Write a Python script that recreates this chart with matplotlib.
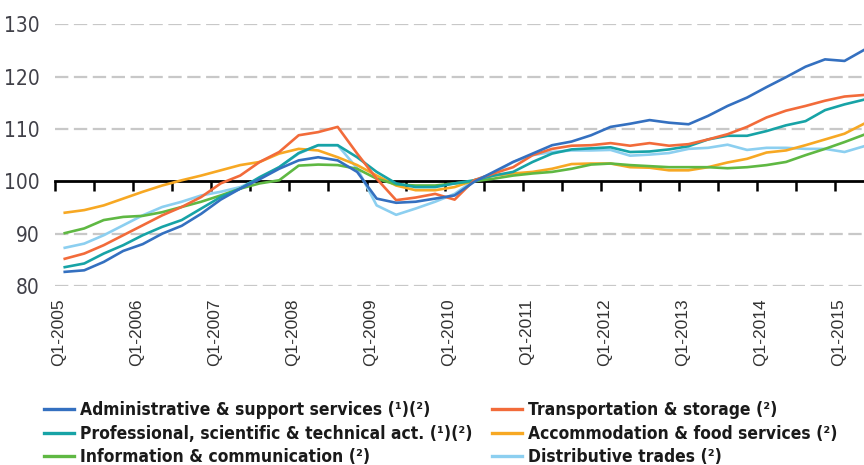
import matplotlib
matplotlib.use("Agg")
import matplotlib.pyplot as plt
from matplotlib import font_manager
from matplotlib.font_manager import FontProperties

years = list(range(2005, 2016))
quarters = [f"Q{q}-{y}" for y in range(2005, 2016) for q in range(1, 5)][:42]
year_labels = [f"Q1-{y}" for y in years]

admin = [82.7, 83.0, 84.6, 86.7, 88.0, 90.0, 91.5, 93.8, 96.5, 98.6,
         100.4, 102.4, 104.0, 104.6, 104.0, 101.8, 96.7, 95.9, 96.1, 96.7,
         97.3, 99.9, 101.8, 103.7, 105.3, 106.9, 107.6, 108.8, 110.4, 111.0,
         111.7, 111.2, 110.9, 112.5, 114.4, 116.0, 118.0, 119.9, 121.9, 123.3,
         123.0, 125.1]
transport = [85.2, 86.2, 87.8, 89.7, 91.6, 93.5, 95.1, 97.0, 99.6, 101.1,
             103.7, 105.6, 108.8, 109.4, 110.4, 105.3, 100.5, 96.4, 96.9, 97.6,
             96.5, 100.2, 101.5, 102.7, 105.0, 106.2, 106.8, 106.9, 107.3, 106.8,
             107.3, 106.8, 107.1, 108.0, 109.0, 110.4, 112.2, 113.5, 114.4, 115.4,
             116.2, 116.5]
professional = [83.6, 84.3, 86.2, 87.8, 89.7, 91.3, 92.6, 94.8, 97.0, 98.6,
                100.8, 102.7, 105.4, 106.9, 106.9, 104.6, 101.8, 99.6, 98.9, 98.9,
                99.6, 100.2, 101.1, 101.8, 103.7, 105.3, 106.1, 106.3, 106.5, 105.6,
                105.7, 106.1, 106.7, 108.0, 108.7, 108.7, 109.6, 110.7, 111.5, 113.6,
                114.7, 115.6]
accommodation = [94.0, 94.5, 95.4, 96.7, 98.0, 99.2, 100.2, 101.1, 102.1, 103.1,
                 103.7, 105.3, 106.2, 105.9, 104.6, 103.1, 101.1, 99.2, 98.3, 98.3,
                 98.9, 100.2, 101.1, 101.5, 101.8, 102.4, 103.3, 103.4, 103.4, 102.7,
                 102.6, 102.1, 102.1, 102.7, 103.6, 104.3, 105.5, 105.9, 106.9, 108.0,
                 109.1, 111.0]
information = [90.1, 91.0, 92.6, 93.2, 93.4, 94.1, 95.1, 96.1, 97.3, 98.6,
               99.6, 100.2, 103.0, 103.2, 103.1, 102.4, 100.5, 99.4, 99.2, 99.2,
               99.6, 100.0, 100.5, 101.1, 101.5, 101.8, 102.4, 103.2, 103.4, 103.1,
               102.9, 102.7, 102.7, 102.7, 102.5, 102.7, 103.1, 103.7, 105.0, 106.2,
               107.5, 108.9]
distributive = [87.3, 88.1, 89.7, 91.6, 93.5, 95.1, 96.1, 97.3, 98.0, 98.9,
                100.5, 102.7, 105.3, 106.9, 106.9, 102.5, 95.4, 93.6, 94.8, 96.1,
                97.6, 100.2, 101.5, 103.7, 105.0, 105.6, 105.9, 105.9, 106.0, 104.9,
                105.1, 105.4, 106.2, 106.4, 107.0, 106.0, 106.4, 106.4, 106.2, 106.2,
                105.6, 106.7]

series = [
    ("Administrative & support services (¹)(²)", admin, "#3470c0"),
    ("Professional, scientific & technical act. (¹)(²)", professional, "#17a3a6"),
    ("Information & communication (²)", information, "#5fb843"),
    ("Transportation & storage (²)", transport, "#f26b3a"),
    ("Accommodation & food services (²)", accommodation, "#f7a823"),
    ("Distributive trades (²)", distributive, "#8ccff0"),
]
draw_order = [5, 4, 2, 1, 3, 0]

# pick a condensed font if one is installed, otherwise a narrow-ish sans
sysfonts = font_manager.findSystemFonts()
def find(*names):
    for n in names:
        for f in sysfonts:
            if f.endswith(n):
                return f
    return None

bold_file = find("LiberationSansNarrow-Bold.ttf", "DejaVuSansCondensed-Bold.ttf")
reg_file = find("LiberationSansNarrow-Regular.ttf", "DejaVuSansCondensed.ttf")
if bold_file:
    leg_prop = FontProperties(fname=bold_file, size=12.5)
else:
    leg_prop = FontProperties(family=["Lato", "DejaVu Sans"], weight="bold", size=12.5)
if reg_file:
    ytick_prop = FontProperties(fname=reg_file, size=15)
else:
    ytick_prop = FontProperties(family=["Lato", "DejaVu Sans"], size=15)

fig = plt.figure(figsize=(8.64, 4.65), dpi=100)
ax = fig.add_axes([55/864, 1 - 286/465, 809/864, (286 - 24.3)/465])

x = list(range(len(quarters)))
handles = {}
for k in draw_order:
    name, vals, col = series[k]
    ln, = ax.plot(x, vals, color=col, lw=1.9, solid_joinstyle="round", zorder=3)
    handles[k] = ln

ax.set_xlim(-0.5, 41.0)
ax.set_ylim(80, 130)

for s in ["top", "right", "left"]:
    ax.spines[s].set_visible(False)
ax.spines["bottom"].set_position(("data", 100))
ax.spines["bottom"].set_linewidth(2.0)
ax.spines["bottom"].set_color("black")
ax.spines["bottom"].set_zorder(2)
ax.set_xticks([-0.5 + 2 * k for k in range(21)])
ax.tick_params(axis="x", direction="out", length=7, width=1.8, color="black",
               labelbottom=False)

ax.set_yticks([80, 90, 100, 110, 120, 130])
ax.set_yticklabels(["80", "90", "100", "110", "120", "130"])
ax.tick_params(axis="y", length=0, pad=11, labelcolor="#404048")
for t in ax.get_yticklabels():
    t.set_fontproperties(ytick_prop)
for yv in [80, 90, 110, 120, 130]:
    ax.axhline(yv, color="#c8c8c8", lw=1.6, ls=(0, (6, 2.5)), zorder=1)

sec = ax.secondary_xaxis("bottom")
sec.set_xticks([4 * k - 0.3 for k in range(len(year_labels))])
sec.set_xticklabels(year_labels, rotation=90, fontsize=12.5, color="#333333",
                    fontfamily=["Liberation Sans", "DejaVu Sans"])
sec.tick_params(length=0, pad=9)
sec.spines["bottom"].set_visible(False)

col1 = [handles[k] for k in (0, 1, 2)]
col2 = [handles[k] for k in (3, 4, 5)]
common = dict(loc="upper left", frameon=False, prop=leg_prop, handlelength=1.75,
              handletextpad=0.3, labelspacing=0.33, borderpad=0, borderaxespad=0)
leg1 = fig.legend(col1, [series[k][0] for k in (0, 1, 2)],
                  bbox_to_anchor=(44/864, 1 - 401/465), **common)
leg2 = fig.legend(col2, [series[k][0] for k in (3, 4, 5)],
                  bbox_to_anchor=(492/864, 1 - 401/465), **common)
for lg in (leg1, leg2):
    for h in lg.legend_handles:
        h.set_linewidth(2.4)
    for t in lg.get_texts():
        t.set_color("#1a1a1a")

fig.savefig("out.png", dpi=100)
